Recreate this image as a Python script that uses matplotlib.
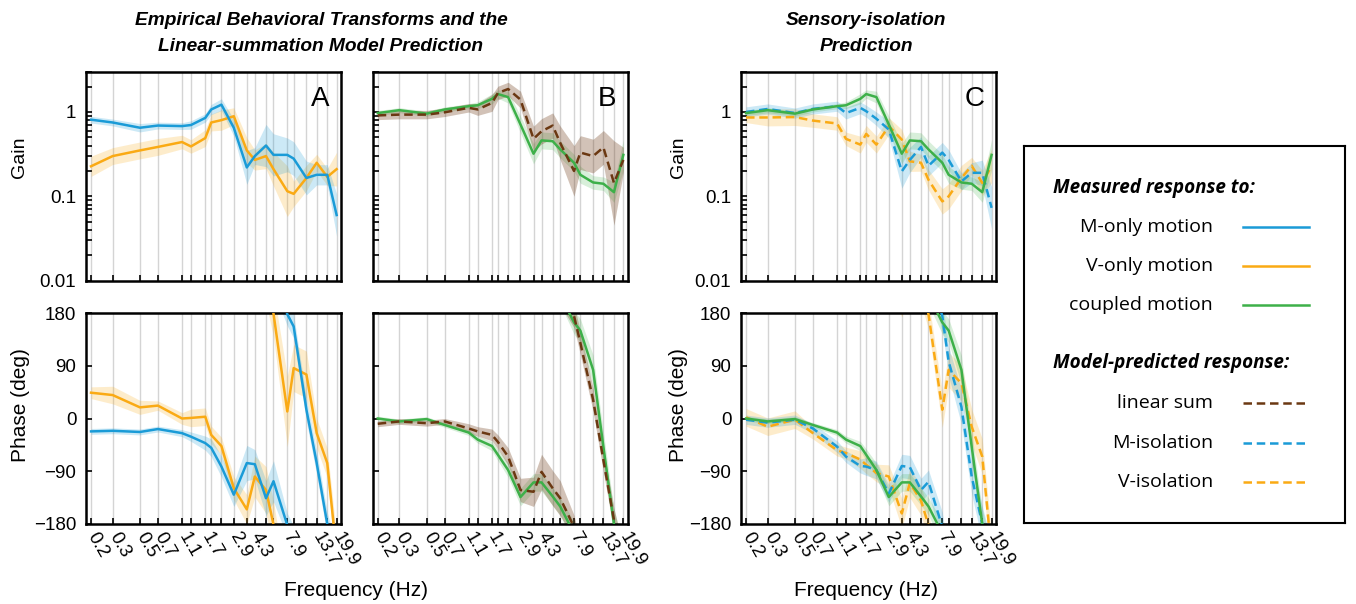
import numpy as np
import matplotlib
matplotlib.use("Agg")
from matplotlib import pyplot as plt

plt.rcParams['font.family'] = ['Liberation Sans', 'DejaVu Sans']

# stimulus frequencies (Hz)
freqs = [0.2, 0.3, 0.5, 0.7, 1.1, 1.3, 1.7, 1.9, 2.3, 2.9, 3.7, 4.3, 5.3, 6.1, 7.9, 8.9, 11.3, 13.7, 16.7, 19.9]
tick_freqs = [0.2, 0.3, 0.5, 0.7, 1.1, 1.7, 2.9, 4.3, 7.9, 13.7, 19.9]
tick_labels = ['0.2', '0.3', '0.5', '0.7', '1.1', '1.7', '2.9', '4.3', '7.9', '13.7', '19.9']

# gains (band = half width in log10 units)
gain_m_only = [0.81, 0.75, 0.65, 0.69, 0.68, 0.70, 0.85, 1.07, 1.22, 0.65, 0.22, 0.30, 0.40, 0.31, 0.31, 0.28, 0.165, 0.18, 0.18, 0.06]
gain_m_only_err = [0.04, 0.04, 0.05, 0.04, 0.04, 0.05, 0.05, 0.06, 0.07, 0.1, 0.2, 0.1, 0.25, 0.25, 0.2, 0.2, 0.2, 0.12, 0.12, 0.25]
gain_v_only = [0.227, 0.30, 0.35, 0.385, 0.44, 0.39, 0.49, 0.75, 0.80, 0.89, 0.35, 0.27, 0.30, 0.21, 0.115, 0.107, 0.165, 0.25, 0.17, 0.21]
gain_v_only_err = [0.12, 0.1, 0.1, 0.1, 0.08, 0.08, 0.1, 0.1, 0.12, 0.1, 0.15, 0.12, 0.15, 0.2, 0.3, 0.15, 0.15, 0.1, 0.1, 0.2]
gain_coupled = [0.97, 1.05, 0.955, 1.07, 1.17, 1.2, 1.43, 1.63, 1.5, 0.71, 0.32, 0.46, 0.45, 0.36, 0.25, 0.18, 0.146, 0.141, 0.112, 0.31]
gain_coupled_err = [0.03, 0.03, 0.03, 0.03, 0.03, 0.04, 0.06, 0.05, 0.07, 0.1, 0.12, 0.1, 0.1, 0.1, 0.1, 0.1, 0.08, 0.08, 0.12, 0.18]
gain_linsum = [0.91, 0.93, 0.93, 0.99, 1.12, 1.07, 1.28, 1.68, 1.87, 1.4, 0.48, 0.59, 0.69, 0.43, 0.2, 0.33, 0.30, 0.38, 0.144, 0.27]
gain_linsum_err = [0.05, 0.05, 0.05, 0.05, 0.05, 0.07, 0.1, 0.08, 0.08, 0.1, 0.15, 0.15, 0.15, 0.2, 0.3, 0.2, 0.2, 0.2, 0.5, 0.15]
gain_m_iso = [1.0, 1.085, 0.97, 1.085, 1.17, 0.97, 1.12, 1.02, 0.83, 0.62, 0.198, 0.27, 0.385, 0.23, 0.33, 0.27, 0.15, 0.19, 0.19, 0.073]
gain_m_iso_err = [0.06, 0.06, 0.06, 0.06, 0.06, 0.07, 0.07, 0.07, 0.08, 0.1, 0.2, 0.15, 0.12, 0.12, 0.12, 0.12, 0.1, 0.12, 0.15, 0.25]
gain_v_iso = [0.86, 0.86, 0.87, 0.79, 0.73, 0.48, 0.41, 0.55, 0.41, 0.68, 0.47, 0.26, 0.25, 0.157, 0.087, 0.10, 0.165, 0.23, 0.144, 0.23]
gain_v_iso_err = [0.06, 0.1, 0.1, 0.08, 0.08, 0.08, 0.1, 0.1, 0.1, 0.1, 0.12, 0.12, 0.1, 0.12, 0.15, 0.15, 0.15, 0.1, 0.15, 0.2]

# unwrapped phases (deg) and band half widths
phase_m_only = [-22, -21, -23, -18, -25, -31, -42, -50, -82, -130, -76, -78, -136, -107, -182, -203, -345, -436, -540, -600]
phase_m_only_err = [5, 5, 5, 5, 6, 8, 12, 15, 18, 20, 30, 25, 30, 35, 20, 20, 20, 20, 20, 20]
phase_v_only = [44, 40, 19, 22, 0, 1, 3, -28, -47, -119, -155, -99, -122, -181, -348, -274, -285, -385, -436, -590]
phase_v_only_err = [10, 15, 12, 8, 10, 15, 15, 15, 15, 20, 25, 35, 40, 40, 60, 40, 40, 25, 25, 30]
phase_coupled = [0, -5, -1, -11, -24, -36, -47, -62, -88, -134, -109, -109, -133, -150, -196, -210, -277, -408, -540, -600]
phase_coupled_err = [4, 4, 4, 4, 5, 6, 8, 10, 12, 15, 15, 15, 15, 15, 20, 20, 25, 25, 25, 25]
phase_linsum = [-9, -5, -8, -5, -17, -22, -28, -40, -65, -122, -125, -91, -119, -136, -185, -231, -328, -431, -533, -600]
phase_linsum_err = [5, 5, 5, 5, 8, 8, 10, 12, 15, 20, 25, 30, 30, 30, 20, 20, 20, 20, 20, 20]
phase_m_iso = [-2, -7, -2, -17, -48, -65, -81, -82, -88, -128, -81, -83, -122, -108, -185, -263, -340, -459, -540, -600]
phase_m_iso_err = [8, 8, 8, 8, 10, 10, 12, 15, 15, 15, 20, 20, 20, 20, 25, 25, 30, 30, 30, 30]
phase_v_iso = [2, -14, -2, -25, -54, -59, -70, -79, -93, -99, -162, -110, -140, -182, -345, -277, -300, -374, -425, -590]
phase_v_iso_err = [15, 15, 15, 10, 10, 10, 15, 15, 15, 20, 25, 25, 25, 25, 30, 30, 30, 30, 30, 30]

BLUE = '#1a9bd7'
ORANGE = '#faaa14'
GREEN = '#3db049'
BROWN = '#6b3812'
DASH = (0, (3.4, 1.9))
LW = 1.8


def gain_series(ax, g, err, color, ls='-', alpha=0.22):
    g = np.array(g)
    e = 10 ** np.array(err)
    ax.fill_between(freqs, g / e, g * e, color=color, alpha=alpha, lw=0, zorder=1)
    ax.plot(freqs, g, color=color, lw=LW, ls=ls, zorder=3)


def phase_series(ax, p, err, color, ls='-', alpha=0.22):
    p = np.array(p, dtype=float)
    e = np.array(err)
    for shift in (0, 360):
        ax.fill_between(freqs, p - e + shift, p + e + shift, color=color, alpha=alpha, lw=0, zorder=1)
        ax.plot(freqs, p + shift, color=color, lw=LW, ls=ls, zorder=3)


def style_axis(ax):
    ax.set_xscale('log')
    ax.set_xlim(0.182, 21.6)
    ax.set_xticks(freqs)
    ax.set_xticks([], minor=True)
    ax.set_xticklabels([tick_labels[tick_freqs.index(f)] if f in tick_freqs else '' for f in freqs])
    ax.xaxis.grid(True, color='#d4d4d4', lw=1.0, zorder=0)
    ax.set_axisbelow(True)
    ax.tick_params(which='both', direction='in', length=4, width=1.2, labelsize=13.5, pad=7)
    for sp in ax.spines.values():
        sp.set_linewidth(1.8)


fig = plt.figure(figsize=(13.56, 6.04), dpi=100)

W = 1356.0
H = 604.0
lefts = [86, 372.7, 741]
pw = 255
gain_box = (71.7, 280.7)
phase_box = (313, 524)

gain_axes = []
phase_axes = []
for l in lefts:
    ga = fig.add_axes([l / W, 1 - gain_box[1] / H, pw / W, (gain_box[1] - gain_box[0]) / H])
    pa = fig.add_axes([l / W, 1 - phase_box[1] / H, pw / W, (phase_box[1] - phase_box[0]) / H])
    gain_axes.append(ga)
    phase_axes.append(pa)

# panel A
gain_series(gain_axes[0], gain_v_only, gain_v_only_err, ORANGE)
gain_series(gain_axes[0], gain_m_only, gain_m_only_err, BLUE)
phase_series(phase_axes[0], phase_v_only, phase_v_only_err, ORANGE)
phase_series(phase_axes[0], phase_m_only, phase_m_only_err, BLUE)

# panel B
gain_series(gain_axes[1], gain_coupled, gain_coupled_err, GREEN, alpha=0.2)
gain_series(gain_axes[1], gain_linsum, gain_linsum_err, BROWN, ls=DASH, alpha=0.3)
phase_series(phase_axes[1], phase_coupled, phase_coupled_err, GREEN, alpha=0.2)
phase_series(phase_axes[1], phase_linsum, phase_linsum_err, BROWN, ls=DASH, alpha=0.3)

# panel C
gain_series(gain_axes[2], gain_v_iso, gain_v_iso_err, ORANGE, ls=DASH)
gain_series(gain_axes[2], gain_m_iso, gain_m_iso_err, BLUE, ls=DASH)
gain_series(gain_axes[2], gain_coupled, gain_coupled_err, GREEN, alpha=0.2)
phase_series(phase_axes[2], phase_v_iso, phase_v_iso_err, ORANGE, ls=DASH)
phase_series(phase_axes[2], phase_m_iso, phase_m_iso_err, BLUE, ls=DASH)
phase_series(phase_axes[2], phase_coupled, phase_coupled_err, GREEN, alpha=0.2)

for i, (ga, pa) in enumerate(zip(gain_axes, phase_axes)):
    style_axis(ga)
    style_axis(pa)
    ga.set_yscale('log')
    ga.set_ylim(0.01, 3.0)
    ga.set_yticks([0.01, 0.1, 1])
    ga.set_yticklabels(['0.01', '0.1', '1'])
    ga.tick_params(axis='x', labelbottom=False)
    pa.set_ylim(-180, 180)
    pa.set_yticks([-180, -90, 0, 90, 180])
    pa.set_yticks([], minor=True)
    pa.set_yticklabels(['\u2212180', '\u221290', '0', '90', '180'])
    for lab in pa.get_xticklabels():
        lab.set_rotation(-60)
        lab.set_rotation_mode('anchor')
        lab.set_ha('left')
        lab.set_va('center')
    ga.text(0.955, 0.93, 'ABC'[i], transform=ga.transAxes, ha='right', va='top', fontsize=20)
    if i == 1:
        ga.tick_params(axis='y', which='both', labelleft=False)
        pa.tick_params(axis='y', labelleft=False)

# y labels (placed by hand, as in the original layout)
for xl in (19.5, 678):
    fig.text(xl / W, 1 - 157.5 / H, 'Gain', rotation=90, ha='center', va='center', fontsize=14)
    fig.text((xl + 1) / W, 1 - 405 / H, 'Phase (deg)', rotation=90, ha='center', va='center', fontsize=15)

# titles and x labels
fig.text(321 / W, 1 - 33.5 / H, 'Empirical Behavioral Transforms and the\nLinear-summation Model Prediction',
         ha='center', va='center', fontsize=13.8, fontweight='bold', fontstyle='italic', linespacing=1.65)
fig.text(866 / W, 1 - 33.5 / H, 'Sensory-isolation\nPrediction',
         ha='center', va='center', fontsize=13.8, fontweight='bold', fontstyle='italic', linespacing=1.65)
fig.text(356 / W, 1 - 590 / H, 'Frequency (Hz)', ha='center', va='center', fontsize=15)
fig.text(866 / W, 1 - 590 / H, 'Frequency (Hz)', ha='center', va='center', fontsize=15)

# legend box
lg = fig.add_axes([1024 / W, 1 - 523 / H, (1345 - 1024) / W, (523 - 146) / H])
lg.set_xlim(1024, 1345)
lg.set_ylim(523, 146)
lg.set_xticks([])
lg.set_yticks([])
for sp in lg.spines.values():
    sp.set_linewidth(1.5)

legend_font = ['Open Sans', 'DejaVu Sans']
headers = [('Measured response to:', 188), ('Model-predicted response:', 363)]
entries = [('M-only motion', 227, BLUE, '-'),
           ('V-only motion', 266, ORANGE, '-'),
           ('coupled motion', 305, GREEN, '-'),
           ('linear sum', 403, BROWN, DASH),
           ('M-isolation', 443, BLUE, DASH),
           ('V-isolation', 482, ORANGE, DASH)]
for txt, y in headers:
    lg.text(1053, y, txt, ha='left', va='center', fontsize=13.6, fontweight='bold',
            fontstyle='italic', family=legend_font)
for txt, y, c, ls in entries:
    lg.text(1213, y, txt, ha='right', va='center', fontsize=14, family=legend_font)
    lg.plot([1243, 1309], [y, y], color=c, lw=LW, ls=ls)

fig.savefig('out.png', dpi=100)
